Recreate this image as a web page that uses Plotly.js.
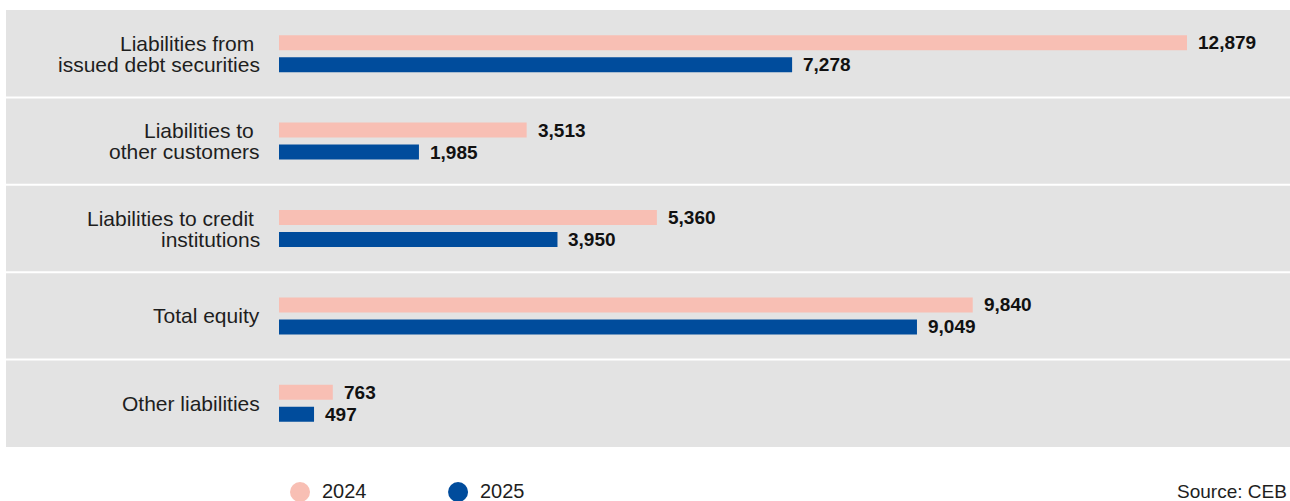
<!DOCTYPE html>
<html>
<head>
<meta charset="utf-8">
<script src="https://cdn.plot.ly/plotly-3.0.1.min.js"></script>
<style>
  html, body { margin: 0; padding: 0; background: #ffffff; }
  #chart { width: 1290px; height: 501px; }
</style>
</head>
<body>
<div id="chart"></div>
<script>
// ---- Data ----
const categories = [
  "Liabilities from\u00A0<br>issued debt securities",
  "Liabilities to\u00A0<br>other customers",
  "Liabilities to credit\u00A0<br>institutions",
  "Total equity",
  "Other liabilities"
];
const values2024 = [12879, 3513, 5360, 9840, 763];
const values2025 = [7278, 1985, 3950, 9049, 497];
const seriesNames = ["2024", "2025"];
const sourceText = "Source: CEB";

// ---- Style ----
const colors = ["#F8BFB4", "#004C9C"];
const bandColor = "#E3E3E3";
const textColor = "#1E1E1E";
const labelFont = "Liberation Sans, Arial, Helvetica, sans-serif";

const traces = [values2024, values2025].map((vals, k) => ({
  type: "bar",
  orientation: "h",
  name: seriesNames[k],
  x: vals,
  y: categories,
  marker: { color: colors[k] },
  hoverinfo: "x+name",
  showlegend: false
}));

const annotations = [];
// category labels (one annotation per line, right aligned left of the axis)
categories.forEach((cat) => {
  const lines = cat.split("<br>");
  const n = lines.length;
  lines.forEach((ln, j) => {
    const off = (j - (n - 1) / 2) * 21;
    annotations.push({
      x: 0, xref: "paper", xanchor: "right", xshift: -17,
      y: cat, yref: "y", yanchor: "middle", yshift: -off,
      text: ln, showarrow: false,
      font: { family: labelFont, size: 21, color: textColor }
    });
  });
});
// value labels
[values2024, values2025].forEach((vals, k) => {
  vals.forEach((v, i) => {
    annotations.push({
      x: v, xref: "x", xanchor: "left", xshift: 9,
      y: categories[i], yref: "y", yanchor: "middle", yshift: k === 0 ? 11 : -11,
      text: v.toLocaleString("en-US"), showarrow: false,
      font: { family: labelFont, size: 19, color: "#111111", weight: "bold" }
    });
  });
});
// legend texts
const legendX = [0.0208, 0.1771];
seriesNames.forEach((nm, k) => {
  annotations.push({
    x: legendX[k], xref: "paper", xanchor: "left", xshift: 20,
    y: 0, yref: "paper", yanchor: "middle", yshift: -44,
    text: nm, showarrow: false,
    font: { family: labelFont, size: 20, color: textColor }
  });
});
annotations.push({
  x: 1, xref: "paper", xanchor: "right", xshift: -1,
  y: 0, yref: "paper", yanchor: "middle", yshift: -44,
  text: sourceText, showarrow: false,
  font: { family: labelFont, size: 19, color: textColor }
});

const shapes = [];
const leftPaper = (6 - 279) / 1011;
shapes.push({
  type: "rect", xref: "paper", yref: "paper", layer: "below",
  x0: leftPaper, x1: 1, y0: 0, y1: 1,
  fillcolor: bandColor, line: { width: 0 }
});
for (let k = 1; k < categories.length; k++) {
  const yy = k / categories.length;
  shapes.push({
    type: "line", xref: "paper", yref: "paper", layer: "below",
    x0: leftPaper, x1: 1, y0: yy, y1: yy,
    line: { color: "#FFFFFF", width: 2 }
  });
}
// legend circles
seriesNames.forEach((nm, k) => {
  shapes.push({
    type: "circle", xref: "paper", yref: "paper",
    xsizemode: "pixel", ysizemode: "pixel",
    xanchor: legendX[k], yanchor: 0,
    x0: -10, x1: 10, y0: -55, y1: -35,
    fillcolor: colors[k], line: { width: 0 }
  });
});

const layout = {
  width: 1290, height: 501,
  margin: { l: 279, r: 0, t: 10, b: 54, pad: 0 },
  paper_bgcolor: "#FFFFFF",
  plot_bgcolor: "rgba(0,0,0,0)",
  barmode: "group",
  bargap: 0.497,
  bargroupgap: 0.318,
  xaxis: {
    range: [0, 14340], visible: false, fixedrange: true
  },
  yaxis: {
    type: "category", autorange: "reversed",
    showticklabels: false, showgrid: false, zeroline: false,
    showline: false, ticks: "", fixedrange: true
  },
  showlegend: false,
  annotations: annotations,
  shapes: shapes,
  font: { family: labelFont }
};

Plotly.newPlot("chart", traces, layout, { displayModeBar: false, staticPlot: true });
</script>
</body>
</html>
